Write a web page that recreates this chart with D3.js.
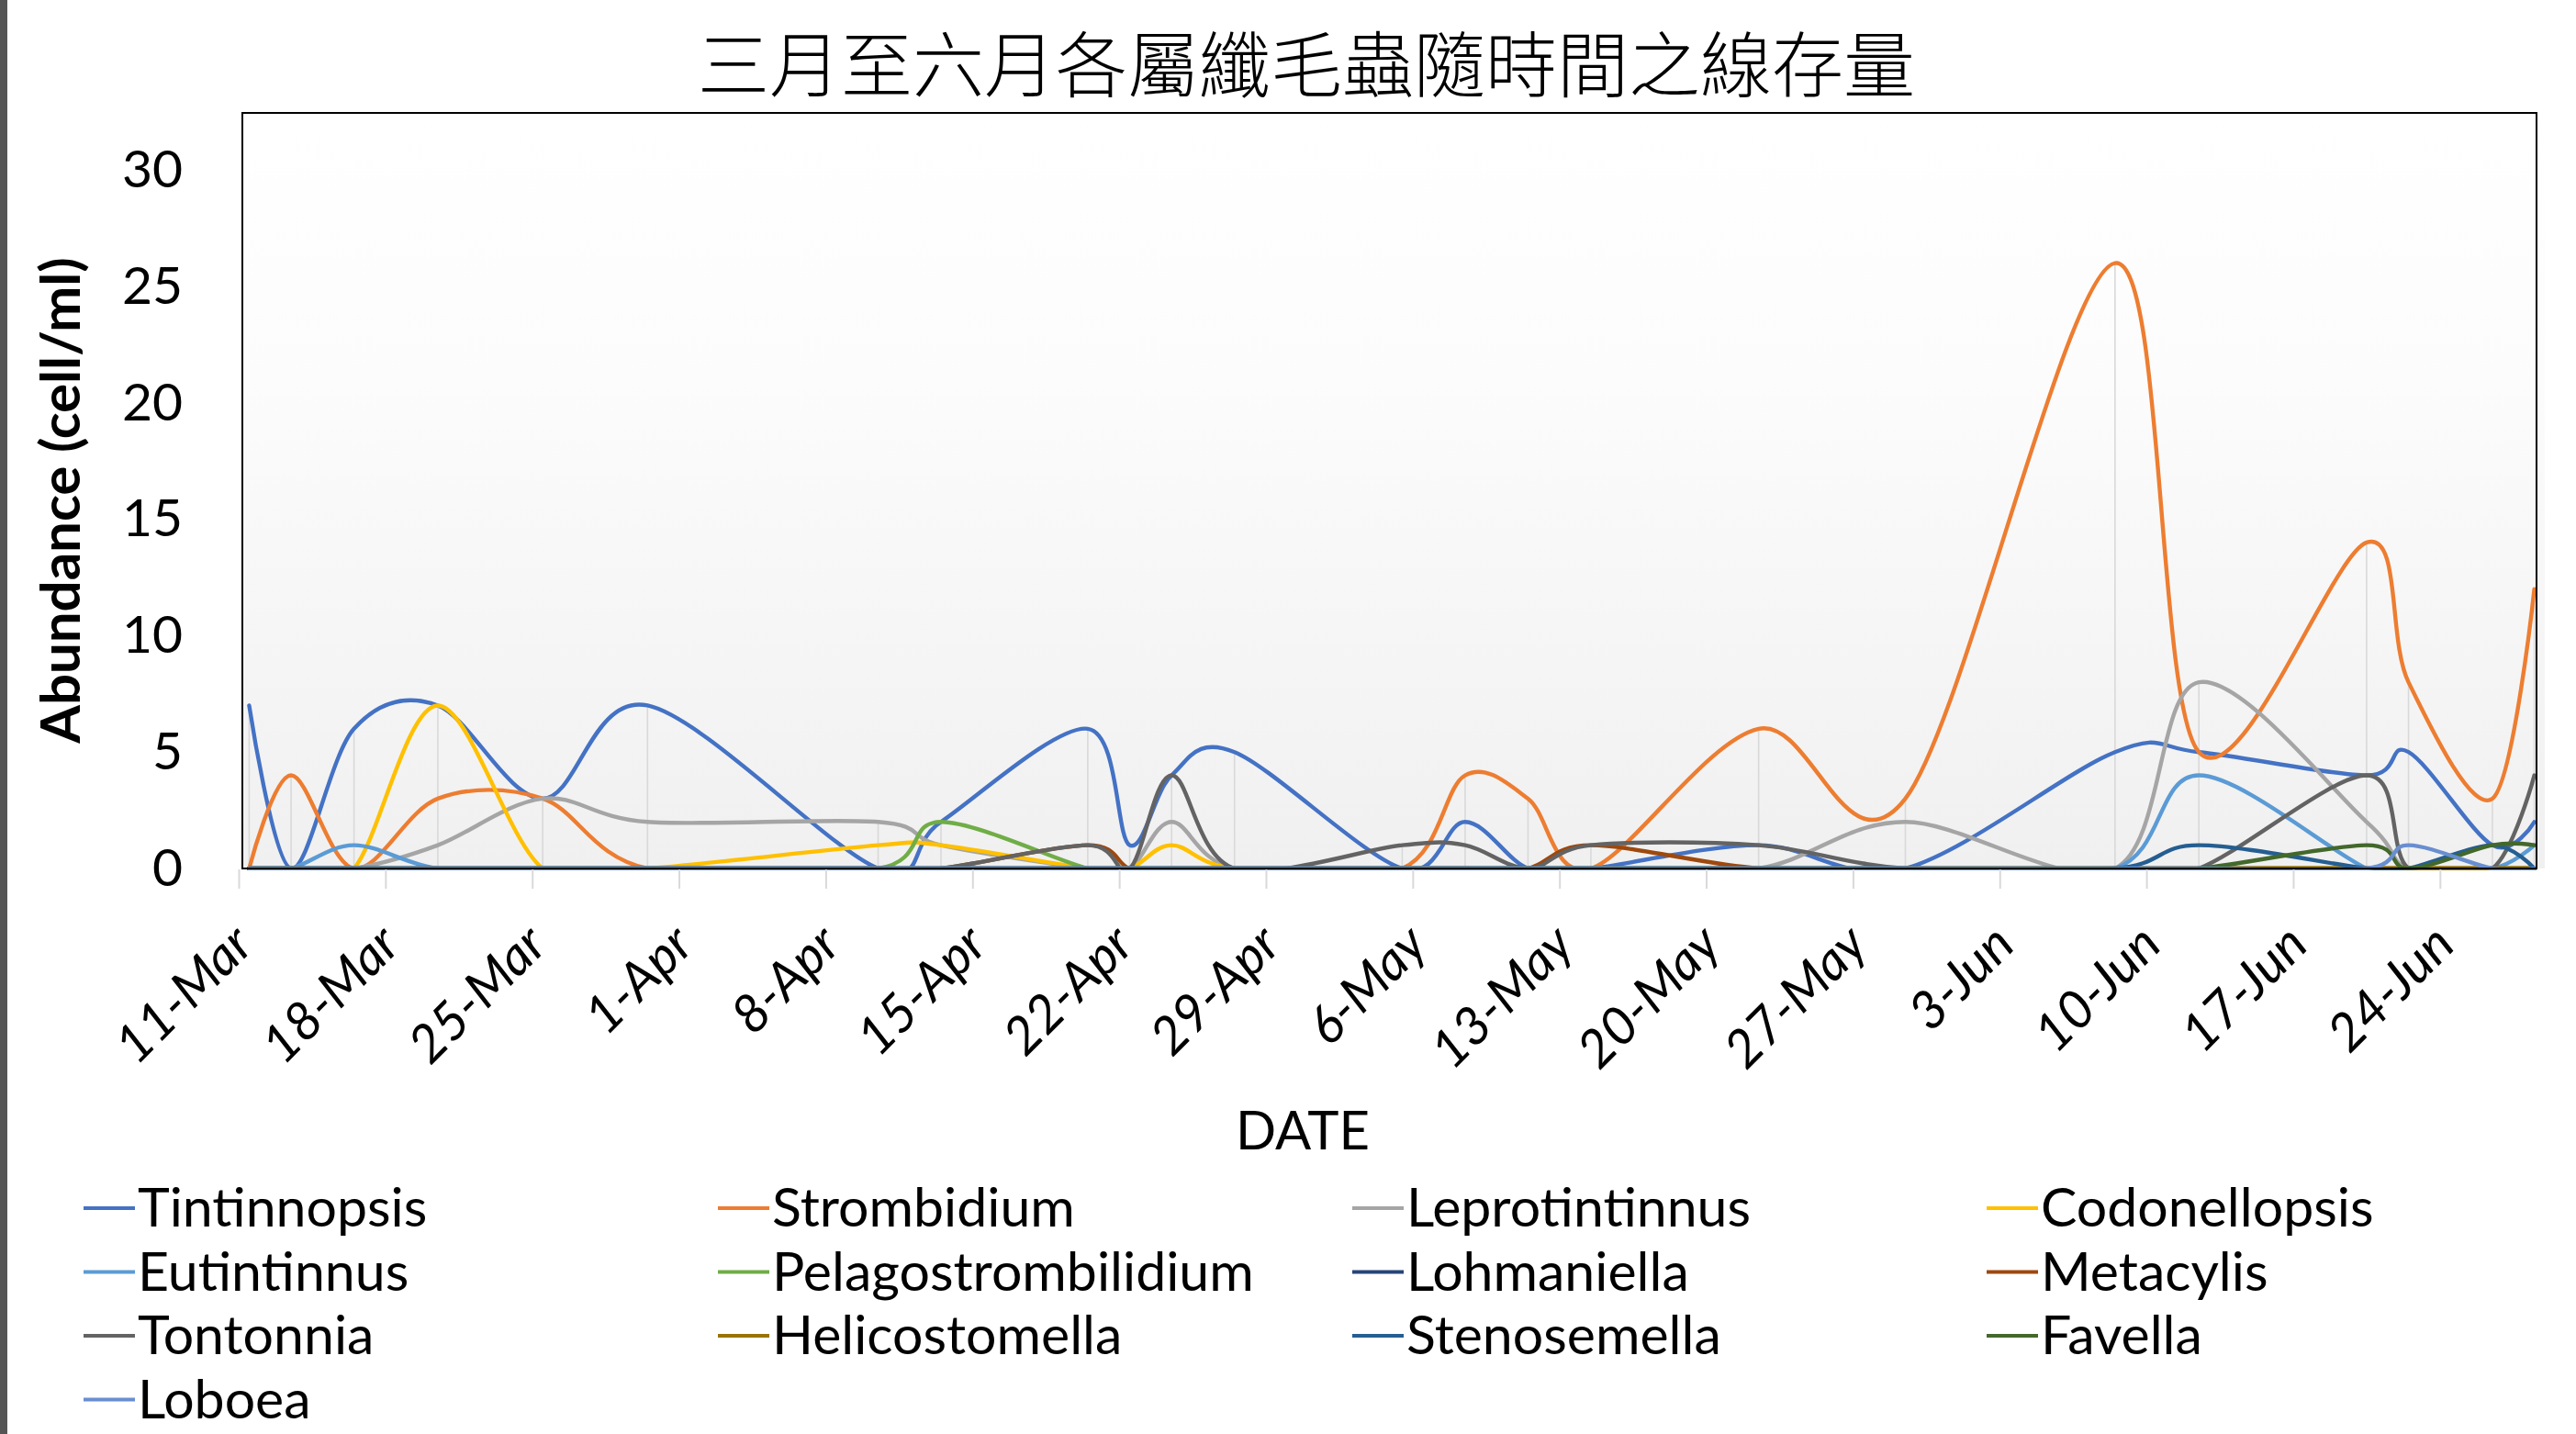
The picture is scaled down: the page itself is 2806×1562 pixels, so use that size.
<!DOCTYPE html>
<html>
<head>
<meta charset="utf-8">
<script src="https://cdn.jsdelivr.net/npm/d3@7/dist/d3.min.js"></script>
<style>
html, body { margin: 0; padding: 0; background: #fff; }
svg { display: block; }
</style>
</head>
<body>
<div id="chart"></div>
<script>
// sampling dates (date axis, one slot per day)
const dates = ["2021-03-11", "2021-03-13", "2021-03-16", "2021-03-20", "2021-03-25", "2021-03-30",
    "2021-04-10", "2021-04-13", "2021-04-20", "2021-04-22", "2021-04-24", "2021-04-27",
    "2021-05-05", "2021-05-08", "2021-05-11", "2021-05-14", "2021-05-22", "2021-05-29",
    "2021-06-08", "2021-06-12", "2021-06-20", "2021-06-22", "2021-06-26", "2021-06-28"];

// abundance (cell/ml) per genus
const tintinnopsis        = [7, 0, 6, 7, 3, 7, 0, 2, 6, 1, 4, 5, 0, 2, 0, 0, 1, 0, 5, 5, 4, 5, 1, 2];
const strombidium         = [0, 4, 0, 3, 3, 0, 0, 0, 0, 0, 0, 0, 0, 4, 3, 0, 6, 3, 26, 5, 14, 8, 3, 12];
const leprotintinnus      = [0, 0, 0, 1, 3, 2, 2, 1, 0, 0, 2, 0, 0, 0, 0, 0, 0, 2, 0, 8, 2, 0, 0, 0];
const codonellopsis       = [0, 0, 0, 7, 0, 0, 1, 1, 0, 0, 1, 0, 0, 0, 0, 0, 0, 0, 0, 0, 0, 0, 0, 0];
const eutintinnus         = [0, 0, 1, 0, 0, 0, 0, 0, 0, 0, 0, 0, 0, 0, 0, 0, 0, 0, 0, 4, 0, 0, 0, 1];
const pelagostrombilidium = [0, 0, 0, 0, 0, 0, 0, 2, 0, 0, 0, 0, 0, 0, 0, 0, 0, 0, 0, 0, 0, 0, 0, 0];
const lohmaniella         = [0, 0, 0, 0, 0, 0, 0, 0, 0, 0, 0, 0, 0, 0, 0, 0, 0, 0, 0, 0, 0, 0, 0, 0];
const metacylis           = [0, 0, 0, 0, 0, 0, 0, 0, 1, 0, 0, 0, 0, 0, 0, 1, 0, 0, 0, 0, 0, 0, 0, 0];
const tontonnia           = [0, 0, 0, 0, 0, 0, 0, 0, 1, 0, 4, 0, 1, 1, 0, 1, 1, 0, 0, 0, 4, 0, 0, 4];
const helicostomella      = [0, 0, 0, 0, 0, 0, 0, 0, 0, 0, 0, 0, 0, 0, 0, 0, 0, 0, 0, 0, 0, 0, 0, 0];
const stenosemella        = [0, 0, 0, 0, 0, 0, 0, 0, 0, 0, 0, 0, 0, 0, 0, 0, 0, 0, 0, 1, 0, 0, 1, 0];
const favella             = [0, 0, 0, 0, 0, 0, 0, 0, 0, 0, 0, 0, 0, 0, 0, 0, 0, 0, 0, 0, 1, 0, 1, 1];
const loboea              = [0, 0, 0, 0, 0, 0, 0, 0, 0, 0, 0, 0, 0, 0, 0, 0, 0, 0, 0, 0, 0, 1, 0, 0];

const seriesNames = ["Tintinnopsis", "Strombidium", "Leprotintinnus", "Codonellopsis",
    "Eutintinnus", "Pelagostrombilidium", "Lohmaniella", "Metacylis",
    "Tontonnia", "Helicostomella", "Stenosemella", "Favella", "Loboea"];
const seriesValues = [tintinnopsis, strombidium, leprotintinnus, codonellopsis,
    eutintinnus, pelagostrombilidium, lohmaniella, metacylis,
    tontonnia, helicostomella, stenosemella, favella, loboea];
const seriesColors = ["#4472C4", "#ED7D31", "#A5A5A5", "#FFC000", "#5B9BD5", "#70AD47",
    "#264478", "#9E480E", "#636363", "#997300", "#255E91", "#43682B", "#698ED0"];

const yTicks = [0, 5, 10, 15, 20, 25, 30];
const title = "三月至六月各屬纖毛蟲隨時間之線存量";

const width = 2806;
const height = 1562;
const font = "Lato, 'Open Sans', sans-serif";

const svg = d3.select("#chart")
    .append("svg")
    .attr("width", width)
    .attr("height", height);

// plot area box
const plot = { left: 264, right: 2763, top: 123, bottom: 946 };

const parse = d3.utcParse("%Y-%m-%d");
const dayList = dates.map(parse);
const axisStart = parse("2021-03-11");
const axisEnd = parse("2021-06-29");

const x = d3.scaleUtc()
    .domain([axisStart, axisEnd])
    .range([260, 2772]);
const y = d3.scaleLinear()
    .domain([0, 32.45])
    .range([plot.bottom, plot.top]);

// points sit in the middle of their day slot
const xMid = d => x(d3.utcHour.offset(d, 12));

// left window edge
svg.append("rect").attr("x", 0).attr("y", 0).attr("width", 8).attr("height", height).attr("fill", "#555");

const defs = svg.append("defs");
const grad = defs.append("linearGradient")
    .attr("id", "bg").attr("x1", 0).attr("y1", 0).attr("x2", 0).attr("y2", 1);
grad.append("stop").attr("offset", "0%").attr("stop-color", "#ffffff");
grad.append("stop").attr("offset", "35%").attr("stop-color", "#fcfcfc");
grad.append("stop").attr("offset", "100%").attr("stop-color", "#f0f0f0");

defs.append("clipPath").attr("id", "clip")
    .append("rect")
    .attr("x", plot.left).attr("y", plot.top)
    .attr("width", 2772 - plot.left).attr("height", plot.bottom - plot.top + 2);

svg.append("rect")
    .attr("x", plot.left).attr("y", plot.top)
    .attr("width", 2772 - plot.left).attr("height", plot.bottom - plot.top)
    .attr("fill", "url(#bg)");

// drop lines: from the axis up to the highest value at each date
const dropGroup = svg.append("g").attr("clip-path", "url(#clip)");
dropGroup.selectAll("line")
    .data(dayList.map((d, i) => ({ date: d, max: d3.max(seriesValues, s => s[i]) })))
    .enter().append("line")
    .attr("x1", d => xMid(d.date))
    .attr("x2", d => xMid(d.date))
    .attr("y1", y(0))
    .attr("y2", d => y(d.max))
    .attr("stroke", "#d9d9d9")
    .attr("stroke-width", 1.6);

// smoothed lines
const line = d3.line()
    .x(d => xMid(d.date))
    .y(d => y(d.v))
    .curve(d3.curveCardinal.tension(0));

const lineGroup = svg.append("g").attr("clip-path", "url(#clip)");
seriesNames.forEach((name, k) => {
    const pts = dayList.map((d, i) => ({ date: d, v: seriesValues[k][i] }));
    lineGroup.append("path")
        .datum(pts)
        .attr("d", line)
        .attr("fill", "none")
        .attr("stroke", seriesColors[k])
        .attr("stroke-width", 4.4)
        .attr("stroke-linejoin", "round")
        .attr("stroke-linecap", "round");
});

// frame
svg.append("rect")
    .attr("x", plot.left).attr("y", plot.top)
    .attr("width", plot.right - plot.left).attr("height", plot.bottom - plot.top)
    .attr("fill", "none")
    .attr("stroke", "#000")
    .attr("stroke-width", 2);

// x axis
const xTicks = d3.utcDay.range(axisStart, axisEnd, 7);
const xAxis = svg.append("g")
    .attr("transform", `translate(0,${plot.bottom + 1})`)
    .call(d3.axisBottom(x).tickValues(xTicks).tickFormat(d3.utcFormat("%-d-%b")).tickSize(21).tickPadding(0));
xAxis.select(".domain").remove();
xAxis.selectAll(".tick line").attr("stroke", "#d9d9d9").attr("stroke-width", 2);
xAxis.selectAll(".tick text")
    .attr("font-family", font)
    .attr("font-style", "italic")
    .attr("font-size", 57)
    .attr("fill", "#000")
    .attr("text-anchor", "end")
    .attr("dy", null)
    .attr("y", null)
    .attr("transform", "translate(18,85) rotate(-45)");

// y axis
const yAxis = svg.append("g")
    .attr("transform", `translate(${plot.left},0)`)
    .call(d3.axisLeft(y).tickValues(yTicks).tickSize(0).tickPadding(65));
yAxis.select(".domain").remove();
yAxis.selectAll(".tick text")
    .attr("font-family", font)
    .attr("font-size", 57)
    .attr("fill", "#000");

// titles
svg.append("text")
    .attr("x", 1423).attr("y", 66)
    .attr("text-anchor", "middle")
    .attr("dominant-baseline", "central")
    .attr("font-family", "'Noto Sans CJK TC', 'Noto Sans CJK SC', sans-serif")
    .attr("font-weight", 300)
    .attr("font-size", 78)
    .attr("fill", "#000")
    .text(title);

svg.append("text")
    .attr("transform", "translate(66,545) rotate(-90)")
    .attr("text-anchor", "middle")
    .attr("dy", "0.35em")
    .attr("font-family", font)
    .attr("font-weight", "bold")
    .attr("font-size", 60)
    .attr("fill", "#000")
    .text("Abundance (cell/ml)");

svg.append("text")
    .attr("x", 1419).attr("y", 1252)
    .attr("text-anchor", "middle")
    .attr("font-family", font)
    .attr("font-size", 58)
    .attr("fill", "#000")
    .text("DATE");

// legend, 4 columns
const legend = svg.append("g");
const item = legend.selectAll("g")
    .data(seriesNames)
    .enter().append("g")
    .attr("transform", (d, i) => `translate(${91 + (i % 4) * 691},${1316 + Math.floor(i / 4) * 69.5})`);
item.append("line")
    .attr("x1", 0).attr("x2", 56)
    .attr("stroke", (d, i) => seriesColors[i])
    .attr("stroke-width", 4.2);
item.append("text")
    .attr("x", 59).attr("y", 20)
    .attr("font-family", font)
    .attr("font-size", 59)
    .attr("fill", "#000")
    .text(d => d);
</script>
</body>
</html>
